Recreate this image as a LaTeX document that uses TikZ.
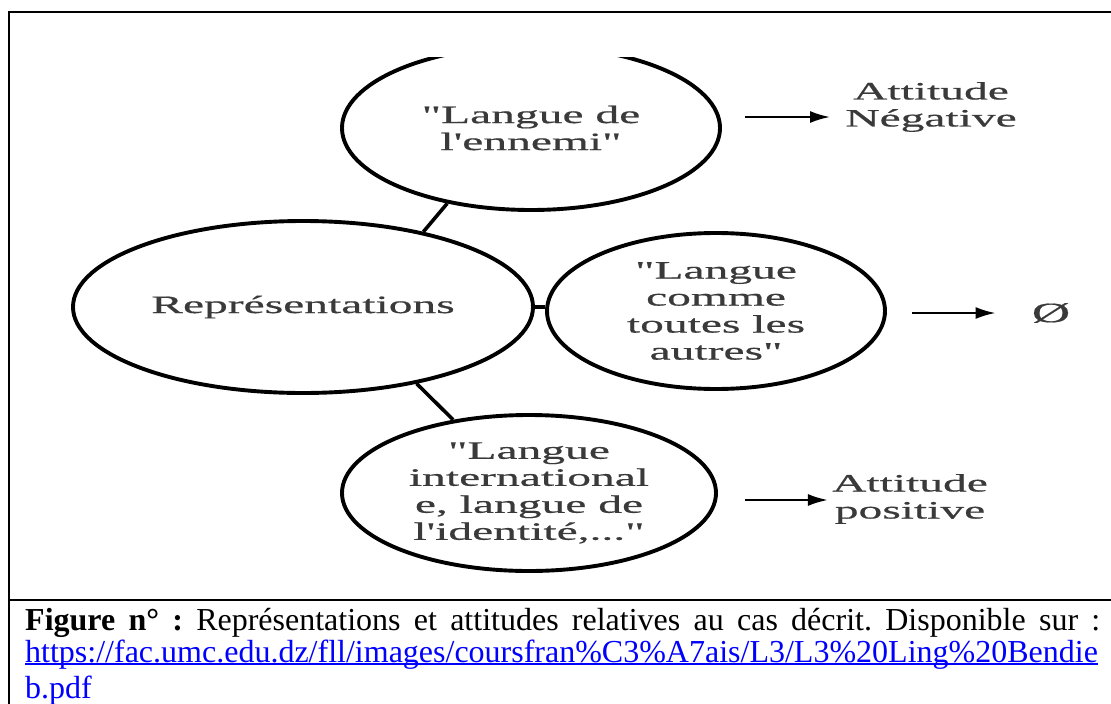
\documentclass[tikz,border=0pt]{standalone}
\usepackage{fontspec}
\setmainfont{Liberation Serif}
\newfontfamily\dfont[FakeStretch=1.9,FakeBold=0.6]{Liberation Serif}
\usetikzlibrary{shapes.geometric,arrows.meta}
\definecolor{dtext}{HTML}{3A3A3A}
\definecolor{urlblue}{HTML}{0000FF}
\newcommand\myuline[2][-3pt]{\setbox0\hbox{#2}\rlap{\rule[#1]{\wd0}{1.6pt}}\box0}
\frenchspacing
\begin{document}
\begin{tikzpicture}[x=1pt,y=-1pt,
  bub/.style={ellipse, draw, line width=3.9pt, inner sep=0pt, align=center, text=dtext,
    font=\dfont\fontsize{25}{27}\selectfont},
  lbl/.style={inner ysep=0pt, align=center, text=dtext, font=\dfont\fontsize{25}{27}\selectfont},
  arr/.style={line width=2.3pt, -{Latex[length=20pt,width=12pt]}},
  link/.style={line width=3.6pt},
  captxt/.style={anchor=base west, inner sep=0pt, font=\fontsize{32}{35}\selectfont},
  frame/.style={line width=2.5pt, line join=miter}]
\useasboundingbox (0,0) rectangle (1111,704);
\fill[white] (0,0) rectangle (1111,704);
% frame
\draw[frame] (1115,12) -- (9,12) -- (9,710);
\draw[line width=2pt] (9,600) -- (1115,600);
% ellipses
\begin{scope}
  \clip (0,57) rectangle (1111,600);
  \node[bub, minimum width=378pt, minimum height=164pt] (T) at (531,128)
    {"Langue de\\l'ennemi"};
\end{scope}
\node[bub, minimum width=460pt, minimum height=172pt] (R) at (303,307) {Représentations};
\node[bub, minimum width=338pt, minimum height=156pt] (M) at (716,311)
  {"Langue\\comme\\toutes les\\autres"};
\node[bub, minimum width=374pt, minimum height=156pt] (B) at (529,493)
  {"Langue\\international\\e, langue de\\l'identité,..."};
% links
\draw[link] (T.222) -- (R.32);
\draw[link] (R.east) -- (R.east -| M.west);
\draw[link] (R.-34) -- (B.136);
% labels
\node[lbl, inner xsep=15pt] (A1) at (931,107) {Attitude\\Négative};
\node[lbl, inner xsep=36pt, font=\dfont\fontsize{28}{28}\selectfont] (Z) at (1051,313) {Ø};
\node[lbl, inner xsep=4pt] (A3) at (910,499) {Attitude\\positive};
\coordinate (a1) at (745,117);
\coordinate (a2) at (912,313);
\coordinate (a3) at (745,500);
\draw[arr] (a1) -- (a1 -| A1.west);
\draw[arr] (a2) -- (a2 -| Z.west);
\draw[arr] (a3) -- (a3 -| A3.west);
% caption
\node[captxt] (c1) at (25,630) {\makebox[1075pt][s]{\textbf{Figure n° :} Représentations et attitudes relatives au cas décrit. Disponible sur :}};
\node[captxt, text=urlblue] (c2) at (25,662) {\myuline{https://fac.umc.edu.dz/f\kern0pt ll/images/coursfran\%C3\%A7ais/L3/L3\%20Ling\%20Bendie}};
\node[captxt, text=urlblue] (c3) at (25,698) {b.pdf};
\end{tikzpicture}
\end{document}
